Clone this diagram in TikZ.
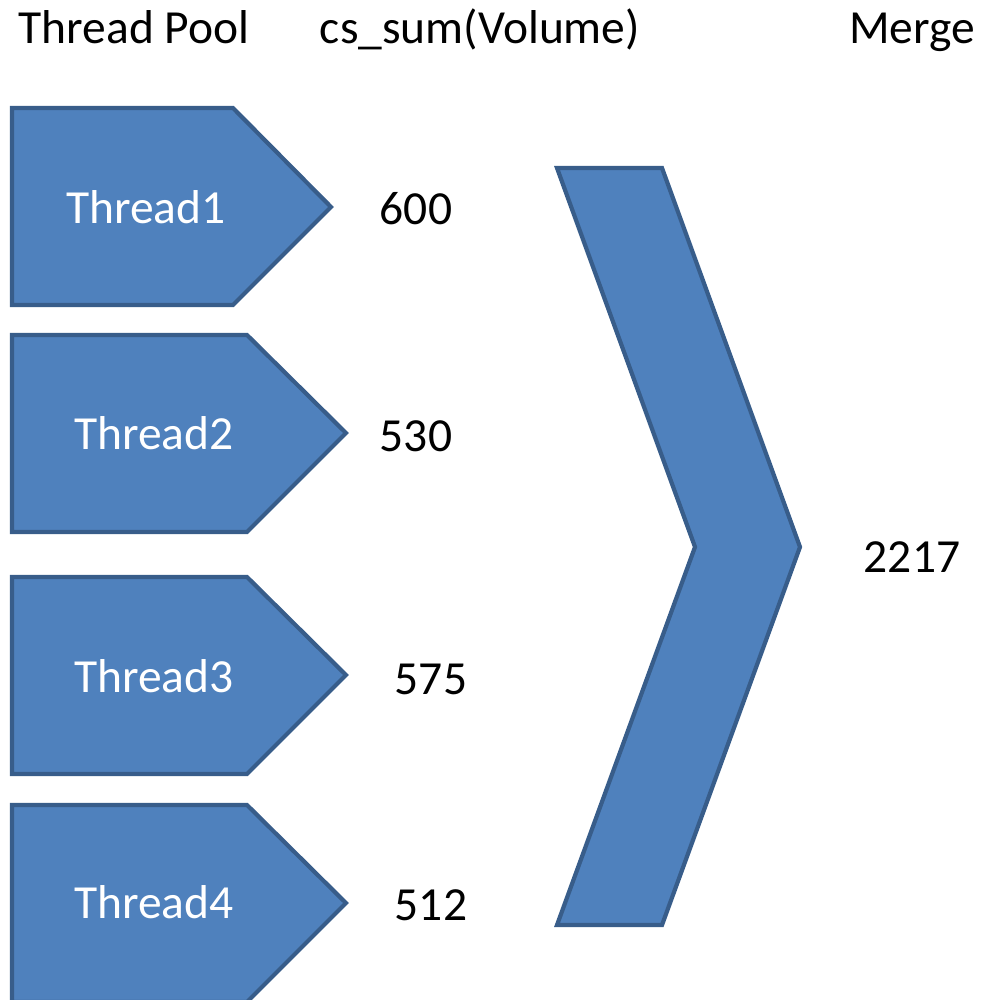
\documentclass[tikz,border=0pt]{standalone}
\usepackage{fontspec}
\setmainfont{Carlito}
\definecolor{shapefill}{HTML}{4F81BD}
\definecolor{shapeline}{HTML}{385D8A}
\begin{document}
\begin{tikzpicture}[x=1pt,y=-1pt,
  shp/.style={fill=shapefill,draw=shapeline,line width=4.2pt,line join=miter},
  lbl/.style={anchor=base,inner sep=0pt,font=\fontsize{47.5}{52}\selectfont},
  wlbl/.style={lbl,text=white}]
\useasboundingbox (0,0) rectangle (987,1000);
% header
\node[lbl] (hpool) at (134,44) {Thread Pool};
\node[lbl] (hsum) at (480,44) {cs\_sum(Volume)};
\node[lbl] (hmerge) at (912,44) {Merge};
% thread pentagons
\draw[shp] (12,108) -- (233,108) -- (331,207) -- (233,305) -- (12,305) -- cycle;
\draw[shp] (12,335) -- (247,335) -- (346,433) -- (247,532) -- (12,532) -- cycle;
\draw[shp] (12,577) -- (247,577) -- (346,675) -- (247,774) -- (12,774) -- cycle;
\draw[shp] (12,805) -- (247,805) -- (346,903) -- (247,1002) -- (12,1002) -- cycle;
\node[wlbl] (t1) at (146,223) {Thread1};
\node[wlbl] (t2) at (154,449) {Thread2};
\node[wlbl] (t3) at (154,692) {Thread3};
\node[wlbl] (t4) at (154,918) {Thread4};
% sums
\node[lbl] (s1) at (416,225) {600};
\node[lbl] (s2) at (416,451) {530};
\node[lbl] (s3) at (431,694) {575};
\node[lbl] (s4) at (431,920) {512};
% merge chevron
\draw[shp] (557,168) -- (662,168) -- (800,547) -- (662,925) -- (557,925) -- (695,547) -- cycle;
\node[lbl] (total) at (912,572) {2217};
\end{tikzpicture}
\end{document}
